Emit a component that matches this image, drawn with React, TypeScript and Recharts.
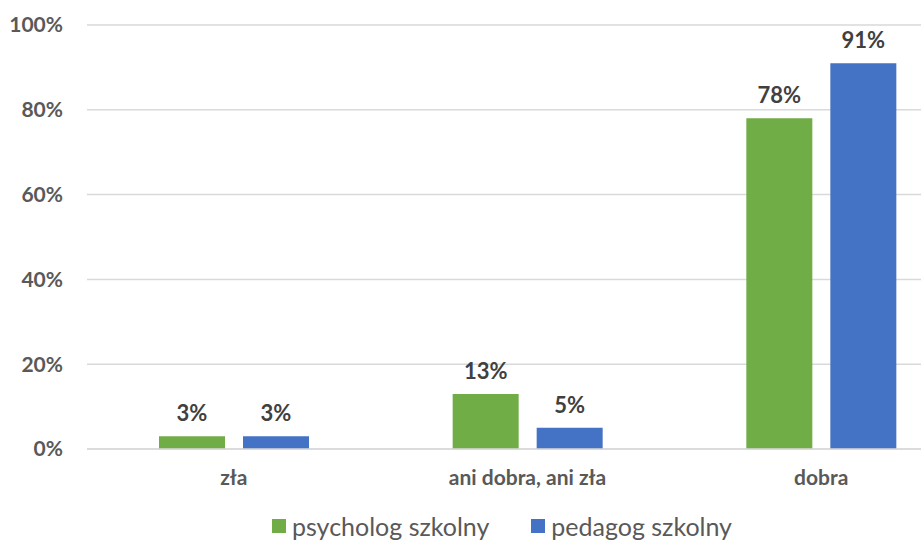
import { BarChart, Bar, XAxis, YAxis, CartesianGrid, LabelList } from 'recharts';

const categories = ['zła', 'ani dobra, ani zła', 'dobra'];
const psycholog = [3, 13, 78];
const pedagog = [3, 5, 91];
const yTicks = [0, 20, 40, 60, 80, 100];

const seriesNames = { psycholog: 'psycholog szkolny', pedagog: 'pedagog szkolny' };
const colors = { psycholog: '#70ad47', pedagog: '#4472c4' };

const data = categories.map((name, i) => ({
  name,
  psycholog: psycholog[i],
  pedagog: pedagog[i],
}));

const font = 'Lato, "Open Sans", sans-serif';
const pct = (v: number) => `${v}%`;
const labelStyle = { fontSize: 22, fontWeight: 700, fill: '#404040', fontFamily: font };

export default function App() {
  return (
    <div
      style={{
        position: 'absolute',
        left: 0,
        top: 0,
        width: 921,
        height: 541,
        overflow: 'hidden',
        background: '#fff',
        fontFamily: font,
      }}
    >
      <BarChart
        width={970}
        height={541}
        data={data}
        margin={{ top: 25, right: 2, bottom: 52, left: 0 }}
        barGap={18}
      >
        <CartesianGrid vertical={false} stroke="#d9d9d9" strokeWidth={1.5} />
        <XAxis
          dataKey="name"
          axisLine={{ stroke: '#d9d9d9', strokeWidth: 1.5 }}
          tickLine={false}
          tickSize={0}
          tickMargin={21}
          height={40}
          tick={{ fontSize: 21, fontWeight: 700, fill: '#595959', fontFamily: font }}
        />
        <YAxis
          domain={[0, 100]}
          ticks={yTicks}
          tickFormatter={pct}
          axisLine={false}
          tickLine={false}
          tickSize={0}
          tickMargin={24}
          width={87}
          tick={{ fontSize: 21, fontWeight: 700, fill: '#595959', fontFamily: font }}
        />
        <Bar dataKey="psycholog" fill={colors.psycholog} barSize={66} isAnimationActive={false}>
          <LabelList dataKey="psycholog" position="top" offset={15} formatter={pct} style={labelStyle} />
        </Bar>
        <Bar dataKey="pedagog" fill={colors.pedagog} barSize={66} isAnimationActive={false}>
          <LabelList dataKey="pedagog" position="top" offset={15} formatter={pct} style={labelStyle} />
        </Bar>
      </BarChart>

      {/* legend under the plot */}
      <div
        style={{
          position: 'absolute',
          left: 272,
          top: 512,
          display: 'flex',
          alignItems: 'center',
          fontSize: 25,
          color: '#595959',
          lineHeight: '28px',
          whiteSpace: 'nowrap',
        }}
      >
        {(['psycholog', 'pedagog'] as const).map((k, i) => (
          <div key={k} style={{ display: 'flex', alignItems: 'center', marginLeft: i ? 42 : 0 }}>
            <span style={{ width: 14, height: 14, background: colors[k], marginRight: 6, display: 'inline-block' }} />
            <span>{seriesNames[k]}</span>
          </div>
        ))}
      </div>
    </div>
  );
}
